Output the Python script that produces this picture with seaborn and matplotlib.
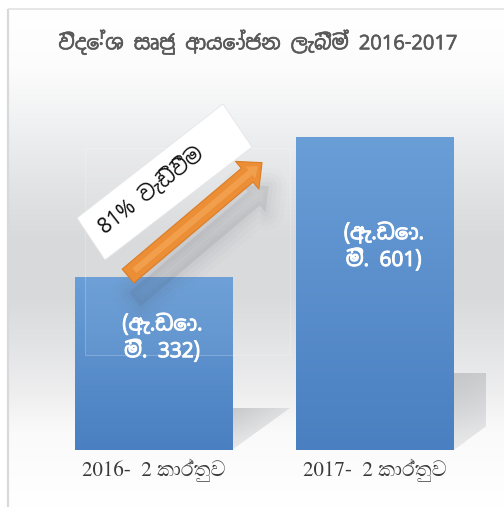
import matplotlib
matplotlib.use("Agg")
import matplotlib.pyplot as plt
import matplotlib.colors as mcolors
import matplotlib.patheffects as pe
from matplotlib.patches import Polygon, Rectangle
import numpy as np
import seaborn as sns

# ---- data ----
title = "විදේශ සෘජු ආයෝජන ලැබීම් 2016-2017"
categories = ["2016-  2 කාර්තුව", "2017-  2 කාර්තුව"]
values = [332, 601]
value_labels = ["(ඇ.ඩො.\nමි. 332)", "(ඇ.ඩො.\nමි. 601)"]
growth_label = "81% වැඩිවීම"

W, H = 504, 507
sns.set_theme(style="white")
plt.rcParams["font.family"] = ["Noto Sans Sinhala", "DejaVu Sans"]

fig = plt.figure(figsize=(W / 100, H / 100), dpi=100)
fig.patch.set_facecolor("white")

def fx(x):
    return x / W

def fy(y):
    return 1 - y / H

# ---- background gradient panel ----
bg = fig.add_axes([0, 0, 1, 1], zorder=-10)
bg.axis("off")
stops_y = [0, 60, 110, 170, 230, 290, 340, 390, 430, 507]
stops_c = ["#ffffff", "#fcfcfc", "#f1f2f3", "#e4e5e7", "#d9dadc", "#d8d9db",
           "#e2e3e5", "#eeeeef", "#fafafa", "#ffffff"]
rows = np.arange(H)
rgb = np.array([mcolors.to_rgb(c) for c in stops_c])
col = np.stack([np.interp(rows, stops_y, rgb[:, k]) for k in range(3)], axis=1)
img = np.repeat(col[:, None, :], 10, axis=1)
bg.imshow(img, extent=[9, W, H, 10], aspect="auto", interpolation="bilinear")
bg.plot([8, 8], [9, H], color="#d9d9d9", lw=1.6, solid_capstyle="butt")
bg.plot([8, W], [9, 9], color="#e2e2e2", lw=1.2, solid_capstyle="butt")
bg.set_xlim(0, W)
bg.set_ylim(H, 0)

# ---- main axes ----
ax = fig.add_axes([fx(42.75), fy(450), fx(485.75) - fx(42.75), fy(85) - fy(450)])
ax.patch.set_alpha(0)
sns.barplot(x=categories, y=values, ax=ax, width=0.71, color="#5a8fcc",
            saturation=1, zorder=3)
ax.set_xlim(-0.5, 1.5)
ax.set_ylim(0, 700)
for s in ax.spines.values():
    s.set_visible(False)
ax.set_yticks([])
ax.tick_params(axis="x", length=0, pad=6)
ax.set_xlabel("")
ax.set_ylabel("")
for t in ax.get_xticklabels():
    t.set_fontfamily(["FreeSerif", "DejaVu Serif"])
    t.set_fontsize(15)
    t.set_color("#3a3a3a")

# faint panel outline
fig.patches.append(Rectangle((fx(85), fy(355)), fx(290) - fx(85), fy(148) - fy(355),
                             transform=fig.transFigure, fc=(1, 1, 1, 0.04),
                             ec=(1, 1, 1, 0.22), lw=0.8, zorder=0))

# gradient fill for bars + floor shadows
top_c = np.array(mcolors.to_rgb("#6a9ed7"))
bot_c = np.array(mcolors.to_rgb("#4a7fc1"))
gr = np.linspace(0, 1, 100)[:, None]
bar_img = (top_c[None, :] * (1 - gr) + bot_c[None, :] * gr)[:, None, :].repeat(4, axis=1)
shadow_rgb = mcolors.to_rgb("#bfc0c3")
for i, p in enumerate(ax.patches):
    x0, w, h = p.get_x(), p.get_width(), p.get_height()
    im = ax.imshow(bar_img, extent=[x0, x0 + w, 0, h], aspect="auto",
                   zorder=3.1, interpolation="bilinear")
    im.set_clip_path(p)
    p.set_facecolor("none")
    p.set_edgecolor("none")
    sh = 0.245 * h
    sw = 0.26 * h / values[0]
    tri = Polygon([[x0 + w, 0], [x0 + w, sh], [x0 + w + sw, sh]], closed=True,
                  fc="none", ec="none", transform=ax.transData)
    ax.add_patch(tri)
    nx, ny = 60, 40
    xx = np.linspace(0, 1, nx)[None, :]
    yy = np.linspace(1, 0, ny)[:, None]
    a = 0.85 * (1 - 0.55 * xx) * (0.35 + 0.65 * yy)
    simg = np.zeros((ny, nx, 4))
    simg[..., :3] = shadow_rgb
    simg[..., 3] = a
    sim = ax.imshow(simg, extent=[x0 + w, x0 + w + sw, 0, sh], aspect="auto",
                    zorder=2, interpolation="bilinear")
    sim.set_clip_path(tri)

# value labels inside bars
for i, (v, lab) in enumerate(zip(values, value_labels)):
    ax.text(i + 0.04, v * 0.65, lab, ha="center", va="center", color="white",
            fontsize=15, linespacing=1.2, zorder=5,
            path_effects=[pe.withStroke(linewidth=0.7, foreground="white")])

# ---- growth arrow ----
tail = (-0.115, values[0] * 1.005)
head = (0.49, values[1] * 0.917)
style = "simple,head_length=0.7,head_width=1.3,tail_width=0.65"
for lw, al in [(26, 0.018), (19, 0.022), (12, 0.026), (6, 0.03)]:
    ax.annotate("", xy=(head[0] + 0.03, head[1] - 45), xytext=(tail[0] + 0.03, tail[1] - 45),
                arrowprops=dict(arrowstyle=style, mutation_scale=20,
                                fc=(0.3, 0.3, 0.35, al), ec=(0.3, 0.3, 0.35, al),
                                lw=lw, shrinkA=0, shrinkB=0), zorder=4)
ax.annotate("", xy=head, xytext=tail,
            arrowprops=dict(arrowstyle=style, mutation_scale=20, fc="#eb8a2d",
                            ec="#d9781f", lw=0.8, shrinkA=0, shrinkB=0), zorder=6)
ax.annotate("", xy=head, xytext=tail,
            arrowprops=dict(arrowstyle="simple,head_length=0.35,head_width=0.55,tail_width=0.22",
                            mutation_scale=20, fc="#f6a552", ec="none", lw=0,
                            shrinkA=6, shrinkB=4, alpha=0.7), zorder=6.5)

# ---- rotated label box ----
corners = [(77, 218), (223, 104), (252, 147), (105, 260)]
fig.patches.append(Polygon([(fx(x), fy(y)) for x, y in corners], closed=True,
                           transform=fig.transFigure, fc="white", ec="#e6e6e6",
                           lw=0.6, zorder=7))
fig.text(fx(151), fy(190), growth_label, rotation=38, rotation_mode="anchor",
         ha="center", va="center", fontsize=15, color="#111111", zorder=8)

# ---- title ----
fig.text(fx(258), fy(42), title, ha="center", va="center", fontsize=14.5,
         color="#595959",
         path_effects=[pe.withStroke(linewidth=0.4, foreground="#595959")])

fig.savefig("out.png", dpi=100)
